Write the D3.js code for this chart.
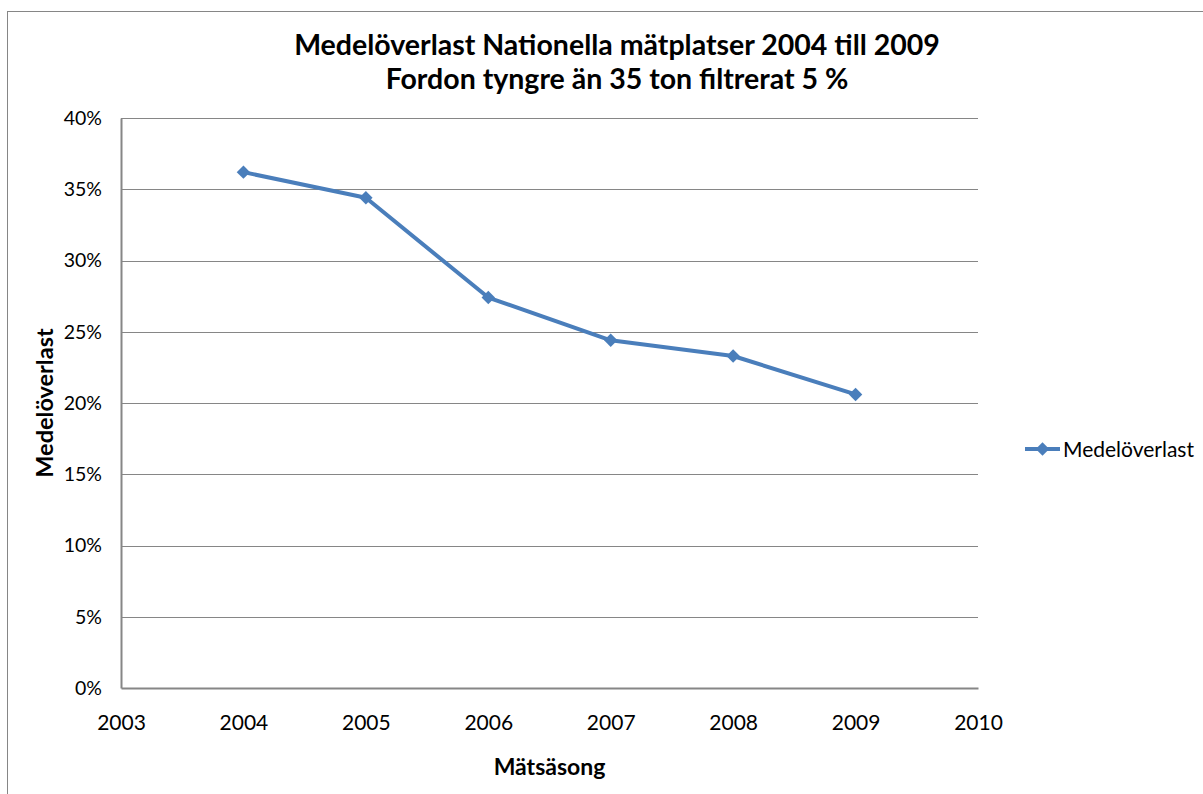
<!DOCTYPE html>
<html>
<head>
<meta charset="utf-8">
<script src="https://cdn.jsdelivr.net/npm/d3@7"></script>
<style>
  html, body { margin: 0; padding: 0; background: #fff; }
  svg { display: block; }
  svg text { font-family: Lato, "Open Sans", sans-serif; }
</style>
</head>
<body>
<svg id="chart" width="1203" height="794"></svg>
<script>
// Mean overload per measurement season
const years = [2004, 2005, 2006, 2007, 2008, 2009];
const overload = [36.2, 34.4, 27.4, 24.4, 23.3, 20.6];
const yTicks = [0, 5, 10, 15, 20, 25, 30, 35, 40];
const xTicks = [2003, 2004, 2005, 2006, 2007, 2008, 2009, 2010];
const seriesName = "Medelöverlast";
const titleLines = ["Medelöverlast Nationella mätplatser 2004 till 2009", "Fordon tyngre än 35 ton filtrerat 5 %"];
const xTitle = "Mätsäsong";
const yTitle = "Medelöverlast";

const svg = d3.select("#chart");
const plot = { left: 121, right: 978, top: 118, bottom: 688 };
const lineColor = "#4a7ebb";
const gridColor = "#868686";
const fontFamily = 'Lato, "Open Sans", sans-serif';

// outer chart frame (extends past the window on right and bottom)
svg.append("rect")
  .attr("x", 7.5).attr("y", 11.5)
  .attr("width", 1205).attr("height", 800)
  .attr("fill", "#fff").attr("stroke", gridColor).attr("stroke-width", 1);

const x = d3.scaleLinear().domain([2003, 2010]).range([plot.left, plot.right]);
const y = d3.scaleLinear().domain([0, 40]).range([plot.bottom, plot.top]);

// horizontal gridlines
svg.append("g")
  .selectAll("line")
  .data(yTicks.filter(d => d > 0))
  .join("line")
  .attr("x1", plot.left).attr("x2", plot.right)
  .attr("y1", d => Math.round(y(d)) + 0.5).attr("y2", d => Math.round(y(d)) + 0.5)
  .attr("stroke", gridColor).attr("stroke-width", 1);

// y axis
const yAxis = svg.append("g")
  .attr("transform", `translate(${plot.left},0)`)
  .call(d3.axisLeft(y).tickValues(yTicks).tickFormat(d => d + "%").tickSize(0).tickPadding(19));
yAxis.attr("font-family", fontFamily);
yAxis.select(".domain").attr("stroke", gridColor).attr("stroke-width", 2);
yAxis.selectAll("text").attr("font-size", 19.5).attr("fill", "#000");

// x axis
const xAxis = svg.append("g")
  .attr("transform", `translate(0,${plot.bottom})`)
  .call(d3.axisBottom(x).tickValues(xTicks).tickFormat(d3.format("d")).tickSize(0).tickPadding(27));
xAxis.attr("font-family", fontFamily);
xAxis.select(".domain").attr("stroke", gridColor).attr("stroke-width", 2);
xAxis.selectAll("text").attr("font-size", 21).attr("fill", "#000");

// series line
const pts = years.map((yr, i) => [yr, overload[i]]);
svg.append("path")
  .datum(pts)
  .attr("fill", "none")
  .attr("stroke", lineColor)
  .attr("stroke-width", 4)
  .attr("stroke-linejoin", "round")
  .attr("d", d3.line().x(d => x(d[0])).y(d => y(d[1])));

// diamond markers
const diamond = d3.symbol().type(d3.symbolDiamond2).size(115);
svg.append("g")
  .selectAll("path")
  .data(pts)
  .join("path")
  .attr("d", diamond)
  .attr("transform", d => `translate(${x(d[0])},${y(d[1])})`)
  .attr("fill", lineColor);

// title
const title = svg.append("text")
  .attr("text-anchor", "middle")
  .attr("font-size", 28.5).attr("font-weight", "bold").attr("fill", "#000");
titleLines.forEach((t, i) => {
  title.append("tspan").attr("x", 617).attr("y", 55 + i * 34).text(t);
});

// axis titles
svg.append("text")
  .attr("x", (plot.left + plot.right) / 2).attr("y", 775)
  .attr("text-anchor", "middle")
  .attr("font-size", 23).attr("font-weight", "bold").text(xTitle);

svg.append("text")
  .attr("transform", `translate(53,${(plot.top + plot.bottom) / 2}) rotate(-90)`)
  .attr("text-anchor", "middle")
  .attr("font-size", 23.5).attr("font-weight", "bold").text(yTitle);

// legend
const lg = svg.append("g").attr("transform", "translate(1025,449)");
lg.append("line").attr("x1", 0).attr("x2", 35).attr("y1", 0).attr("y2", 0)
  .attr("stroke", lineColor).attr("stroke-width", 4);
lg.append("path").attr("d", diamond).attr("transform", "translate(17.5,0)").attr("fill", lineColor);
lg.append("text").attr("x", 38).attr("y", 7.5)
  .attr("font-size", 21).attr("fill", "#000").text(seriesName);
</script>
</body>
</html>
